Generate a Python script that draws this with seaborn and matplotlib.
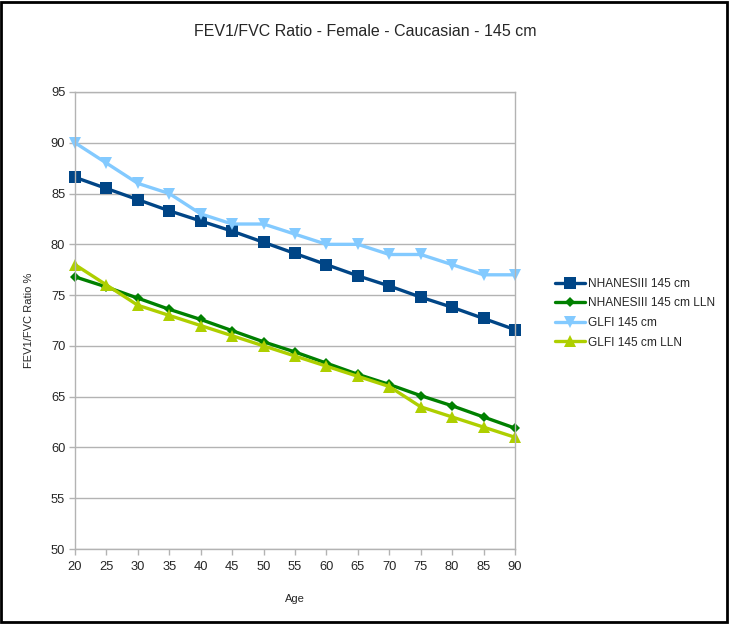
import pandas as pd
import matplotlib
matplotlib.use("Agg")
import matplotlib.pyplot as plt
import seaborn as sns
from matplotlib.patches import Rectangle

ages = [20, 25, 30, 35, 40, 45, 50, 55, 60, 65, 70, 75, 80, 85, 90]
nhanes = [86.6, 85.5, 84.4, 83.3, 82.3, 81.3, 80.2, 79.1, 78.0, 76.9, 75.9, 74.8, 73.8, 72.7, 71.6]
nhanes_lln = [76.8, 75.8, 74.7, 73.6, 72.6, 71.5, 70.4, 69.4, 68.3, 67.2, 66.2, 65.1, 64.1, 63.0, 61.9]
glfi = [90, 88, 86, 85, 83, 82, 82, 81, 80, 80, 79, 79, 78, 77, 77]
glfi_lln = [78, 76, 74, 73, 72, 71, 70, 69, 68, 67, 66, 64, 63, 62, 61]

series = ["NHANESIII 145 cm", "NHANESIII 145 cm LLN", "GLFI 145 cm", "GLFI 145 cm LLN"]
colors = ["#004586", "#008000", "#83caff", "#aecf00"]
markers = ["s", "D", "v", "^"]
msizes = [8, 5.5, 9, 9]

df = pd.DataFrame({"Age": ages, series[0]: nhanes, series[1]: nhanes_lln,
                   series[2]: glfi, series[3]: glfi_lln})
long = df.melt(id_vars="Age", var_name="series", value_name="ratio")

sns.set_style("white")
plt.rcParams['font.family'] = ['Liberation Sans', 'DejaVu Sans']

fig = plt.figure(figsize=(7.29, 6.24), dpi=100)
ax = fig.add_axes([75 / 729, 1 - 549 / 624, 440 / 729, 457 / 624])

for name, c, m, ms in zip(series, colors, markers, msizes):
    sub = long[long["series"] == name]
    sns.lineplot(data=sub, x="Age", y="ratio", ax=ax, color=c, marker=m,
                 markersize=ms, markeredgewidth=0, linewidth=2.4, label=name,
                 clip_on=False)

ax.set_xlim(20, 90)
ax.set_ylim(50, 95)
ax.set_xticks(ages)
ax.set_yticks(range(50, 96, 5))
ax.yaxis.grid(True, color="#b3b3b3", linewidth=1)
ax.xaxis.grid(False)
for s in ax.spines.values():
    s.set_color("#b3b3b3")
    s.set_linewidth(1)
ax.tick_params(axis="both", which="both", direction="out", length=4, width=1,
               color="#b3b3b3", labelsize=9.3, bottom=True, left=True)
ax.tick_params(axis="x", pad=5)
ax.tick_params(axis="y", pad=3)
ax.set_xlabel("Age", fontsize=8, labelpad=15)
ax.set_ylabel("FEV1/FVC Ratio %", fontsize=8, labelpad=12)
ax.set_axisbelow(True)

fig.text(365 / 729, 1 - 32 / 624, "FEV1/FVC Ratio - Female - Caucasian - 145 cm",
         ha="center", va="center", fontsize=11.5)

leg = ax.legend(loc="center left", bbox_to_anchor=(555 / 440 - 75 / 440, 0.516),
                frameon=False, fontsize=8.6,
                handlelength=2.5, labelspacing=0.64, handletextpad=0.25,
                borderaxespad=0, borderpad=0)

fig.patches.append(Rectangle((0.002, 0.003), 0.995, 0.994, transform=fig.transFigure,
                             fill=False, edgecolor="black", linewidth=2))

fig.savefig("out.png", dpi=100, facecolor="white")
